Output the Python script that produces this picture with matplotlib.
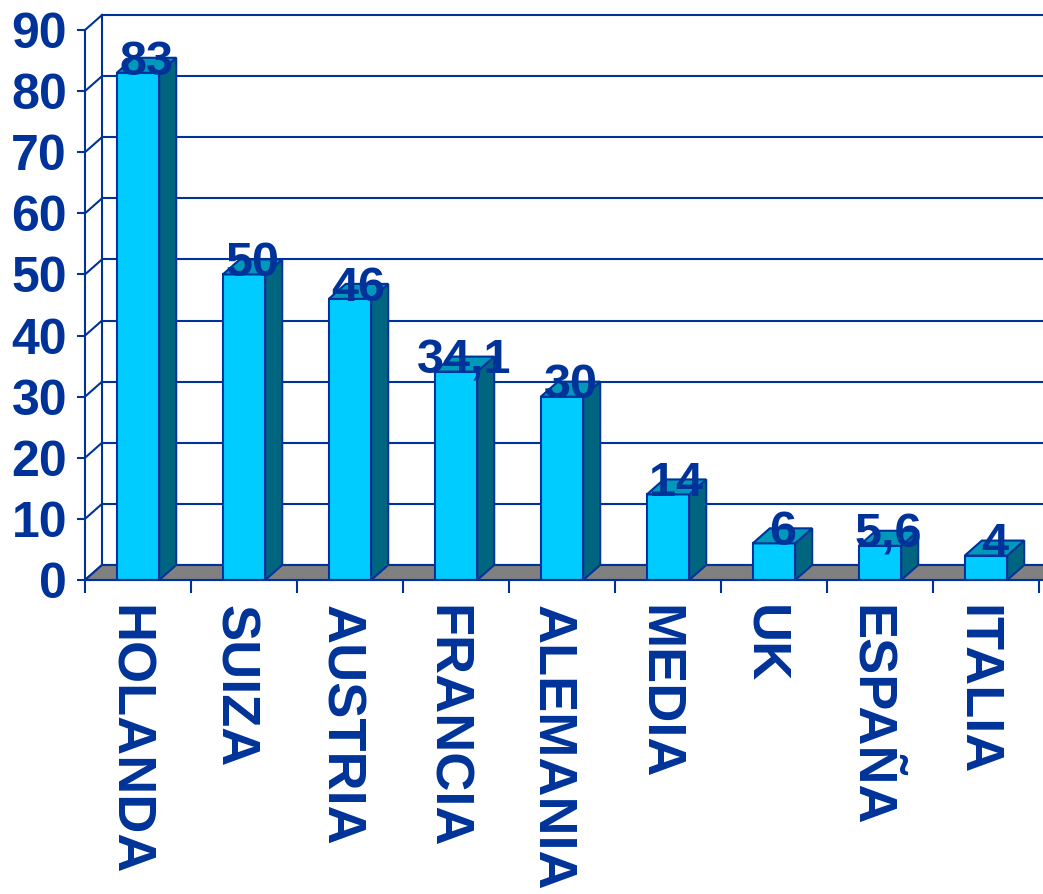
import numpy as np
import matplotlib
matplotlib.use('Agg')
from matplotlib import pyplot as plt
from matplotlib.patches import Polygon
from matplotlib.transforms import ScaledTranslation

paises = ['HOLANDA', 'SUIZA', 'AUSTRIA', 'FRANCIA', 'ALEMANIA', 'MEDIA', 'UK', 'ESPAÑA', 'ITALIA']
valores = [83, 50, 46, 34.1, 30, 14, 6, 5.6, 4]
etiquetas = ['83', '50', '46', '34,1', '30', '14', '6', '5,6', '4']
yticks = [0, 10, 20, 30, 40, 50, 60, 70, 80, 90]

azul = '#003399'
frente = '#00CCFF'
lado = '#006680'
tapa = '#0099BB'
suelo = '#808080'
fuente = 'Liberation Sans'

W, H = 1043, 894
fig = plt.figure(figsize=(W / 100, H / 100), dpi=100)
ax = fig.add_axes([85 / W, 314 / H, 954 / W, 550 / H])
n = len(paises)
ax.set_xlim(0, n)
ax.set_ylim(0, 90)

# profundidad del efecto 3d (en unidades de datos)
dx = 17 / 106
dy = 15 / (550 / 90)

# pared del fondo
for v in yticks:
    ax.plot([dx, n + 1], [v + dy, v + dy], color=azul, lw=1.5, zorder=1, clip_on=False)
    ax.plot([0, dx], [v, v + dy], color=azul, lw=1.5, zorder=1, clip_on=False)
ax.plot([dx, dx], [dy, 90 + dy], color=azul, lw=1.5, zorder=1, clip_on=False)

# suelo
ax.add_patch(Polygon([(0, 0), (n + 1, 0), (n + 1 + dx, dy), (dx, dy)], closed=True,
                     facecolor=suelo, edgecolor=azul, lw=1.5, zorder=2, clip_on=False))

# barras
for i, v in enumerate(valores):
    x0 = i + 0.3
    x1 = i + 0.7
    ax.bar(i + 0.5, v, width=0.4, color=frente, edgecolor=azul, lw=1.5, zorder=3)
    ax.add_patch(Polygon([(x1, 0), (x1 + dx, dy), (x1 + dx, v + dy), (x1, v)], closed=True,
                         facecolor=lado, edgecolor=azul, lw=1.5, zorder=3, clip_on=False))
    ax.add_patch(Polygon([(x0, v), (x1, v), (x1 + dx, v + dy), (x0 + dx, v + dy)], closed=True,
                         facecolor=tapa, edgecolor=azul, lw=1.5, zorder=3, clip_on=False))
    ax.text(i + 0.5 + dx / 2, v + dy - 0.7, etiquetas[i], ha='center', va='center',
            fontsize=35, fontweight='bold', color=azul, family=fuente, zorder=5)

for s in ['top', 'right']:
    ax.spines[s].set_visible(False)
for s in ['left', 'bottom']:
    ax.spines[s].set_color(azul)
    ax.spines[s].set_linewidth(1.5)
    ax.spines[s].set_zorder(4)

ax.set_yticks(yticks)
ax.set_yticklabels([str(t) for t in yticks], fontsize=36, fontweight='bold',
                   color=azul, family=fuente)
ax.tick_params(axis='y', length=6, width=1.5, color=azul, pad=7)

ax.set_xticks(np.arange(n + 1))
ax.set_xticklabels([])
ax.tick_params(axis='x', which='major', length=9.5, width=1.5, color=azul)
ax.set_xticks(np.arange(n) + 0.5, minor=True)
ax.set_xticklabels(paises, minor=True, rotation=270, fontsize=39, fontweight='bold',
                   color=azul, family=fuente, ha='center', va='top')
ax.tick_params(axis='x', which='minor', length=0, pad=18)
desplaza = ScaledTranslation(-10 / 100, 0, fig.dpi_scale_trans)
for lbl in ax.get_xticklabels(minor=True):
    lbl.set_transform(lbl.get_transform() + desplaza)

fig.savefig('out.png', dpi=100, facecolor='white')
